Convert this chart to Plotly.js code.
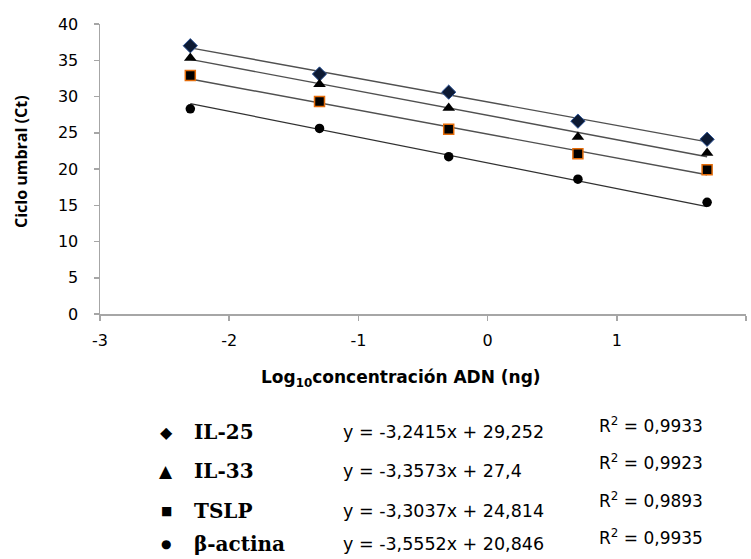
<!DOCTYPE html>
<html>
<head>
<meta charset="utf-8">
<script src="https://cdn.plot.ly/plotly-3.0.1.min.js"></script>
<style>html,body{margin:0;padding:0;background:#fff;}#chart{width:751px;height:559px;}</style>
</head>
<body>
<div id="chart"></div>
<script>
// Data
const logConc = [-2.301, -1.301, -0.301, 0.699, 1.699];
const seriesNames = ["IL-25", "IL-33", "TSLP", "β-actina"];
const il25 = [37.0, 33.1, 30.6, 26.6, 24.1];
const il33 = [35.3, 31.7, 28.4, 24.4, 22.2];
const tslp = [32.9, 29.3, 25.5, 22.1, 19.9];
const bActina = [28.3, 25.6, 21.7, 18.6, 15.4];
const slopes = [-3.2415, -3.3573, -3.3037, -3.5552];
const intercepts = [29.252, 27.4, 24.814, 20.846];
const r2 = [0.9933, 0.9923, 0.9893, 0.9935];
const xTicks = [-3, -2, -1, 0, 1, 2];
const yTicks = [0, 5, 10, 15, 20, 25, 30, 35, 40];

const seriesValues = [il25, il33, tslp, bActina];
const markerStyles = [
  {symbol: 'diamond', size: 11, color: '#0d1a33', line: {color: '#2f5597', width: 1}},
  {symbol: 'triangle-up', size: 11, color: '#000000', line: {color: '#000', width: 0}},
  {symbol: 'square', size: 10, color: '#000000', line: {color: '#e46c0a', width: 1.5}},
  {symbol: 'circle', size: 9.5, color: '#000000', line: {color: '#000', width: 0}}
];
const lineColors = ['#505050', '#505050', '#505050', '#303030'];
const legendGlyphs = ['◆', '▲', '■', '●'];
const legendGlyphSize = [16, 17, 12, 12];

const traces = [];
seriesValues.forEach((vals, i) => {
  const x0 = logConc[0], x1 = logConc[logConc.length - 1];
  traces.push({
    x: [x0, x1],
    y: [slopes[i] * x0 + intercepts[i], slopes[i] * x1 + intercepts[i]],
    mode: 'lines', type: 'scatter', hoverinfo: 'skip', showlegend: false,
    line: {color: lineColors[i], width: i === 3 ? 1.2 : 1.4}
  });
});
seriesValues.forEach((vals, i) => {
  traces.push({
    x: logConc, y: vals, name: seriesNames[i],
    mode: 'markers', type: 'scatter', showlegend: false,
    marker: markerStyles[i]
  });
});

const fmt = v => String(v).replace('.', ',');
const rowY = [432, 471, 511, 544];
const r2Y = [425, 462, 500, 537];
const plotTop = 24, plotBottom = 314, plotLeft = 100, plotRight = 746;
const py = p => (plotBottom - p) / (plotBottom - plotTop);
const px = p => (p - plotLeft) / (plotRight - plotLeft);

const annotations = [];
seriesNames.forEach((n, i) => {
  annotations.push({xref: 'paper', yref: 'paper', x: px(166), y: py(rowY[i]), xanchor: 'center', yanchor: 'middle',
    text: legendGlyphs[i], showarrow: false, font: {family: 'DejaVu Sans', size: legendGlyphSize[i], color: '#000'}});
  annotations.push({xref: 'paper', yref: 'paper', x: px(192), y: py(rowY[i]), xanchor: 'left', yanchor: 'middle',
    text: '<b>' + n + '</b>', showarrow: false, font: {family: 'DejaVu Serif', size: 20, color: '#000'}});
  annotations.push({xref: 'paper', yref: 'paper', x: px(341), y: py(rowY[i]), xanchor: 'left', yanchor: 'middle',
    text: 'y = ' + fmt(slopes[i]) + 'x + ' + fmt(intercepts[i]), showarrow: false, font: {family: 'DejaVu Sans', size: 17.5, color: '#000'}});
  annotations.push({xref: 'paper', yref: 'paper', x: px(597), y: py(r2Y[i]), xanchor: 'left', yanchor: 'middle',
    text: 'R<sup>2</sup> = ' + fmt(r2[i]), showarrow: false, font: {family: 'DejaVu Sans', size: 17, color: '#000'}});
});
// axis titles
annotations.push({xref: 'paper', yref: 'paper', x: px(401), y: py(379), xanchor: 'center', yanchor: 'middle',
  text: '<b>Log<sub>10</sub>concentración ADN (ng)</b>', showarrow: false, font: {family: 'DejaVu Sans', size: 17, color: '#000'}});
annotations.push({xref: 'paper', yref: 'paper', x: px(21), y: py(162), xanchor: 'center', yanchor: 'middle', textangle: -90,
  text: '<b>Ciclo umbral (Ct)</b>', showarrow: false, font: {family: 'Open Sans', size: 16, color: '#000'}});

const layout = {
  width: 751, height: 559,
  margin: {l: plotLeft, r: 751 - plotRight, t: plotTop, b: 559 - plotBottom},
  paper_bgcolor: '#fff', plot_bgcolor: '#fff',
  showlegend: false,
  font: {family: 'DejaVu Sans', color: '#000'},
  xaxis: {
    range: [-3, 2], tickvals: xTicks, ticktext: xTicks.map(String),
    showgrid: false, zeroline: false, showline: true, linecolor: '#a6a6a6', linewidth: 1.5,
    ticks: 'outside', ticklen: 5, tickcolor: '#a6a6a6', tickwidth: 1.5,
    tickfont: {family: 'DejaVu Sans', size: 16, color: '#000'}, ticklabelstandoff: 6
  },
  yaxis: {
    range: [0, 40], tickvals: yTicks, ticktext: yTicks.map(String),
    showgrid: false, zeroline: false, showline: true, linecolor: '#a6a6a6', linewidth: 1.5,
    ticks: 'outside', ticklen: 5, tickcolor: '#a6a6a6', tickwidth: 1.5,
    tickfont: {family: 'DejaVu Sans', size: 16, color: '#000'}, ticklabelstandoff: 12
  },
  annotations: annotations
};

Plotly.newPlot('chart', traces, layout, {staticPlot: true, displayModeBar: false});
</script>
</body>
</html>
